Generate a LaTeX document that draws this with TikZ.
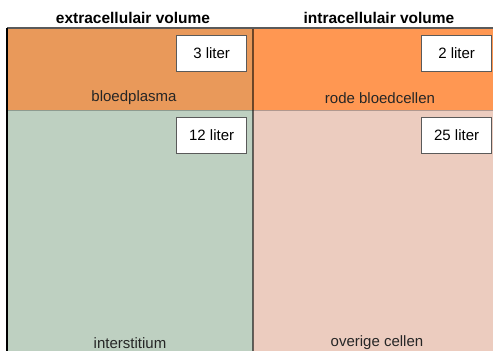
\documentclass[tikz,border=0pt]{standalone}
\usepackage{fontspec}
\setmainfont{Liberation Sans}
\definecolor{plasmaC}{RGB}{233,153,90}
\definecolor{rbcC}{RGB}{255,151,82}
\definecolor{interC}{RGB}{190,208,193}
\definecolor{cellC}{RGB}{236,204,191}
\definecolor{lineC}{RGB}{90,90,90}
\begin{document}
\begin{tikzpicture}[x=1pt,y=-1pt,
  region/.style={draw=none,inner sep=0pt,outer sep=0pt},
  volbox/.style={draw=lineC,line width=1.2pt,fill=white,minimum width=70pt,minimum height=36pt,inner sep=0pt,anchor=north west,font=\fontsize{15}{17}\selectfont},
  lbl/.style={font=\fontsize{15}{17}\selectfont,text=black!85,inner sep=0pt},
  hdr/.style={font=\fontsize{15.5}{18}\selectfont\bfseries,inner sep=0pt}]
\useasboundingbox (0,0) rectangle (493,351);
\fill[white] (0,0) rectangle (493,351);
% regions
\node[region,fill=plasmaC,minimum width=246pt,minimum height=82pt,anchor=north west] (plasma) at (7,28) {};
\node[region,fill=rbcC,minimum width=240pt,minimum height=82pt,anchor=north west] (rbc) at (253,28) {};
\node[region,fill=interC,minimum width=246pt,minimum height=241pt,anchor=north west] (inter) at (7,110) {};
\node[region,fill=cellC,minimum width=240pt,minimum height=241pt,anchor=north west] (cells) at (253,110) {};
% lines
\draw[black,opacity=0.25,line width=0.8pt] (plasma.south west) -- (rbc.south east);
\draw[black,opacity=0.55,line width=1.3pt] (plasma.north east) -- (inter.south east);
\draw[lineC,line width=1.5pt] (plasma.north west) -- (rbc.north east);
\draw[black,line width=1.5pt] (plasma.north west) -- (inter.south west);
% headers
\node[hdr] (hex) at (133,18) {extracellulair volume};
\node[hdr] (hin) at (379,18) {intracellulair volume};
% volume boxes
\node[volbox] (v3) at (176,35) {3 liter};
\node[volbox] (v2) at (421,35) {2 liter};
\node[volbox] (v12) at (176,117) {12 liter};
\node[volbox] (v25) at (421,117) {25 liter};
% labels
\node[lbl] (lp) at (134,98) {bloedplasma};
\node[lbl] (lr) at (380,98) {rode bloedcellen};
\node[lbl] (li) at (130,343) {interstitium};
\node[lbl] (lo) at (377,343) {overige cellen};
\end{tikzpicture}
\end{document}
